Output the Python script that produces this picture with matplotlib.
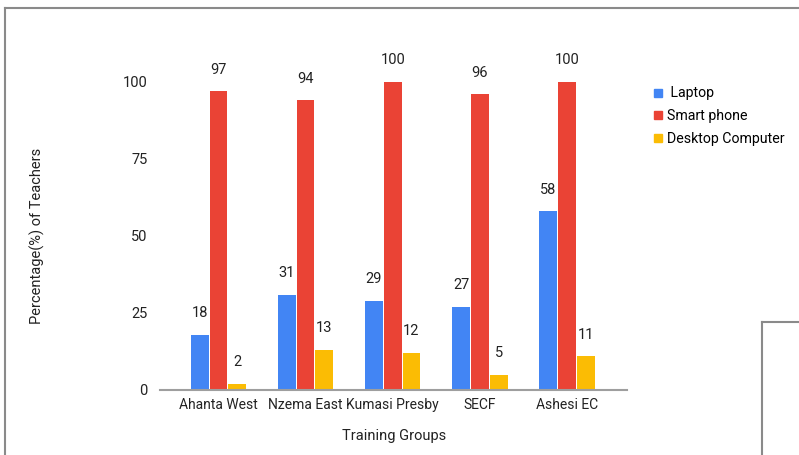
import matplotlib
matplotlib.use("Agg")
import matplotlib.pyplot as plt
import numpy as np
from matplotlib.lines import Line2D

plt.rcParams['font.family'] = ['Roboto', 'DejaVu Sans']

groups = ["Ahanta West", "Nzema East", "Kumasi Presby", "SECF", "Ashesi EC"]
laptop = [18, 31, 29, 27, 58]
smart_phone = [97, 94, 100, 96, 100]
desktop = [2, 13, 12, 5, 11]
series_names = [" Laptop", "Smart phone", "Desktop Computer"]
colors = ["#4285F4", "#EA4335", "#FBBC04"]
yticks = [0, 25, 50, 75, 100]

fig = plt.figure(figsize=(7.99, 4.55), dpi=100)
ax = fig.add_axes([0.2003, 0.1429, 0.5847, 0.6769])

x = np.arange(len(groups))
w = 0.215
for i, (vals, name, c) in enumerate(zip([laptop, smart_phone, desktop], series_names, colors)):
    pos = x + (i - 1) * w
    ax.bar(pos, vals, width=w * 0.95, color=c, label=name, zorder=2)
    for p, v in zip(pos, vals):
        ax.text(p, v + 7, str(v), ha="center", va="center", fontsize=10.5,
                color="#222222", clip_on=False)

ax.set_xlim(-0.67, 4.69)
ax.set_ylim(0, 100)
ax.set_yticks(yticks)
ax.set_yticklabels([str(t) for t in yticks], fontsize=10.5, color="#222222")
ax.set_xticks(x)
ax.set_xticklabels(groups, fontsize=10, color="#222222")
ax.tick_params(length=0, pad=6)
ax.tick_params(axis="y", pad=9)
for s in ["top", "right", "left"]:
    ax.spines[s].set_visible(False)
ax.spines["bottom"].set_color("#9e9e9e")
ax.spines["bottom"].set_linewidth(1.5)
ax.spines["bottom"].set_zorder(3)

ax.set_xlabel("Training Groups", fontsize=10.5, color="#222222")
ax.set_ylabel("Percentage(%) of Teachers", fontsize=10.5, color="#222222")
ax.xaxis.set_label_coords(0.5, -0.128)
ax.yaxis.set_label_coords(-0.247, 0.5)

handles = [Line2D([0], [0], marker="s", linestyle="none", markersize=6,
                  markerfacecolor=c, markeredgecolor=c) for c in colors]
fig.legend(handles, series_names, loc="upper left", bbox_to_anchor=(0.799, 0.838),
           frameon=False, fontsize=10.2, handletextpad=0.1, labelspacing=0.62,
           handlelength=1.0)

# page frame lines
frame = dict(color="#8a8a8a", linewidth=1.5, transform=fig.transFigure)
fig.add_artist(Line2D([5 / 799, 1.0], [1 - 8 / 455, 1 - 8 / 455], **frame))
fig.add_artist(Line2D([5 / 799, 5 / 799], [0, 1 - 8 / 455], **frame))
fig.add_artist(Line2D([762 / 799, 1.0], [1 - 322 / 455, 1 - 322 / 455], **frame))
fig.add_artist(Line2D([762 / 799, 762 / 799], [0, 1 - 322 / 455], **frame))

fig.savefig("out.png", dpi=100, facecolor="white")
